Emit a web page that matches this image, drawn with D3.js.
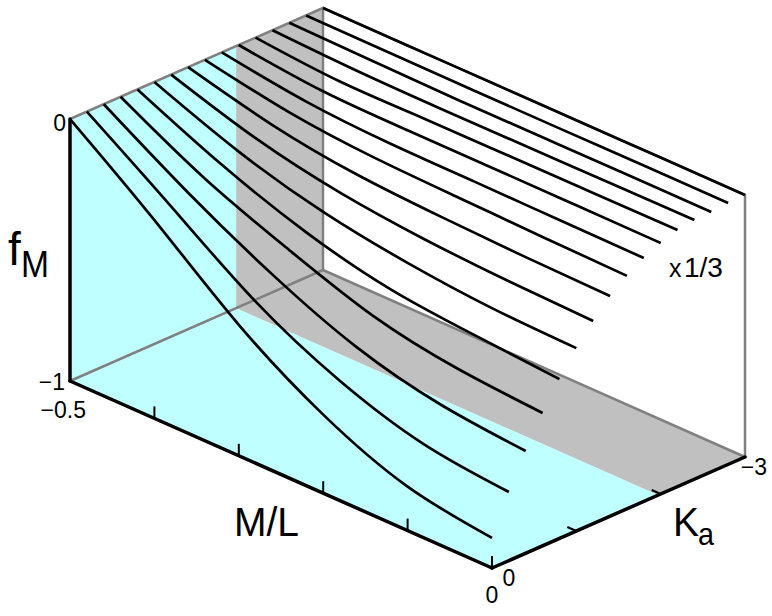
<!DOCTYPE html>
<html>
<head>
<meta charset="utf-8">
<script src="https://cdn.jsdelivr.net/npm/d3@7"></script>
<style>
  body { margin: 0; background: #fff; }
  text { font-family: "Liberation Sans", sans-serif; fill: #000; }
</style>
</head>
<body>
<script>
// one curve per Ka, from 0 down to -3
var kaValues = [0, -0.2, -0.4, -0.6, -0.8, -1, -1.2, -1.4, -1.6, -1.8, -2, -2.2, -2.4, -2.6, -2.8, -3];
var mlValues = [-0.5, -0.4, -0.3, -0.2, -0.1, 0];
var kaTicks = [0, -1, -2, -3];

// fM
var fKa00 = [0, -0.243, -0.500, -0.700, -0.832, -0.885];
var fKa02 = [0, -0.220, -0.440, -0.600, -0.700, -0.738];
var fKa04 = [0, -0.195, -0.365, -0.500, -0.577, -0.610];
var fKa06 = [0, -0.170, -0.300, -0.410, -0.468, -0.493];
var fKa08 = [0, -0.145, -0.260, -0.335, -0.368, -0.392];
var fKa10 = [0, -0.123, -0.210, -0.262, -0.292, -0.302];
var fKa12 = [0, -0.100, -0.165, -0.200, -0.218, -0.227];
var fKa14 = [0, -0.078, -0.124, -0.143, -0.154, -0.160];
var fKa16 = [0, -0.058, -0.087, -0.097, -0.105, -0.111];
var fKa18 = [0, -0.045, -0.063, -0.066, -0.069, -0.071];
var fKa20 = [0, -0.034, -0.040, -0.040, -0.041, -0.042];
var fKa22 = [0, -0.025, -0.024, -0.023, -0.022, -0.021];
var fKa24 = [0, -0.012, -0.015, -0.014, -0.012, -0.011];
var fKa26 = [0, -0.005, -0.009, -0.009, -0.008, -0.008];
var fKa28 = [0, -0.002, -0.003, -0.003, -0.002, -0.002];
var fKa30 = [0, 0, 0, 0, 0, 0];
var fSeries = [fKa00, fKa02, fKa04, fKa06, fKa08, fKa10, fKa12, fKa14, fKa16, fKa18, fKa20, fKa22, fKa24, fKa26, fKa28, fKa30];

var width = 772, height = 616;
var svg = d3.select("body").append("svg").attr("width", width).attr("height", height);

// oblique projection, each axis adds its own screen offset
var mlX = d3.scaleLinear().domain([-0.5, 0]).range([0, 422]);
var mlY = d3.scaleLinear().domain([-0.5, 0]).range([0, 187]);
var kaX = d3.scaleLinear().domain([0, -3]).range([0, 253]);
var kaY = d3.scaleLinear().domain([0, -3]).range([0, -111]);
var fY = d3.scaleLinear().domain([-1, 0]).range([0, -262]);

function project(ml, ka, f) {
    return [70 + mlX(ml) + kaX(ka), 381 + mlY(ml) + kaY(ka) + fY(f)];
}

function poly(corners, fill) {
    svg.append("polygon")
        .attr("points", corners.map(function(c) { return project(c[0], c[1], c[2]).join(","); }).join(" "))
        .attr("fill", fill);
}

function edge(a, b, color, w) {
    var p = project(a[0], a[1], a[2]), q = project(b[0], b[1], b[2]);
    svg.append("line")
        .attr("x1", p[0]).attr("y1", p[1])
        .attr("x2", q[0]).attr("y2", q[1])
        .attr("stroke", color).attr("stroke-width", w)
        .attr("stroke-linecap", "round");
}

// slices, cyan up to about Ka=-2 and gray behind
var cut = -1.97;
poly([[-0.5, 0, 0], [-0.5, cut, 0], [-0.5, cut, -1], [-0.5, 0, -1]], "#bfffff");
poly([[-0.5, 0, -1], [-0.5, cut, -1], [0, cut, -1], [0, 0, -1]], "#bfffff");
poly([[-0.5, cut, 0], [-0.5, -3, 0], [-0.5, -3, -1], [-0.5, cut, -1]], "#c0c0c0");
poly([[-0.5, cut, -1], [-0.5, -3, -1], [0, -3, -1], [0, cut, -1]], "#c0c0c0");

// back edges of the box
var gray = "#808080";
edge([-0.5, 0, 0], [-0.5, -3, 0], gray, 2.5);
edge([-0.5, -3, 0], [0, -3, 0], gray, 2.5);
edge([-0.5, -3, 0], [-0.5, -3, -1], gray, 2.5);
edge([-0.5, 0, -1], [-0.5, -3, -1], gray, 2.5);
edge([-0.5, -3, -1], [0, -3, -1], gray, 2.5);
edge([0, -3, 0], [0, -3, -1], gray, 2.5);

// curves
var line = d3.line().curve(d3.curveNatural);
kaValues.forEach(function(ka, i) {
    var pts = mlValues.map(function(ml, j) { return project(ml, ka, fSeries[i][j]); });
    svg.append("path")
        .attr("d", line(pts))
        .attr("fill", "none")
        .attr("stroke", "#000")
        .attr("stroke-width", 2.7);
});

// axes
edge([-0.5, 0, 0], [-0.5, 0, -1], "#000", 3.5);
edge([-0.5, 0, -1], [0, 0, -1], "#000", 3.5);
edge([0, 0, -1], [0, -3, -1], "#000", 3.5);

// ticks
mlValues.forEach(function(ml) {
    var p = project(ml, 0, -1);
    svg.append("line")
        .attr("x1", p[0]).attr("y1", p[1])
        .attr("x2", p[0]).attr("y2", p[1] - 12)
        .attr("stroke", "#000").attr("stroke-width", 2);
});
kaTicks.slice(1, 3).forEach(function(ka) {
    var p = project(0, ka, -1);
    svg.append("line")
        .attr("x1", p[0]).attr("y1", p[1])
        .attr("x2", p[0] - 9).attr("y2", p[1] - 4)
        .attr("stroke", "#000").attr("stroke-width", 2);
});

function label(x, y, str, size, anchor, len) {
    var t = svg.append("text").attr("x", x).attr("y", y)
        .attr("font-size", size)
        .attr("text-anchor", anchor || "start")
        .text(str);
    if (len) t.attr("textLength", len).attr("lengthAdjust", "spacingAndGlyphs");
    return t;
}

label(66, 131, "0", 23, "end");
label(65, 390, "\u22121", 23, "end");
label(86, 418, "\u22120.5", 23, "end");
label(492, 603, "0", 23, "middle");
label(509, 586, "0", 23, "middle");
label(767, 475, "\u22123", 23, "end");

label(8, 265, "f", 46);
label(21, 277, "M", 36, "start", 28);
label(234, 536, "M/L", 40, "start", 65);
label(673, 536, "K", 40, "start", 26);
label(698, 545, "a", 32, "start", 16);
label(669, 277, "x", 25);
label(684, 277, "1/3", 28);
</script>
</body>
</html>
